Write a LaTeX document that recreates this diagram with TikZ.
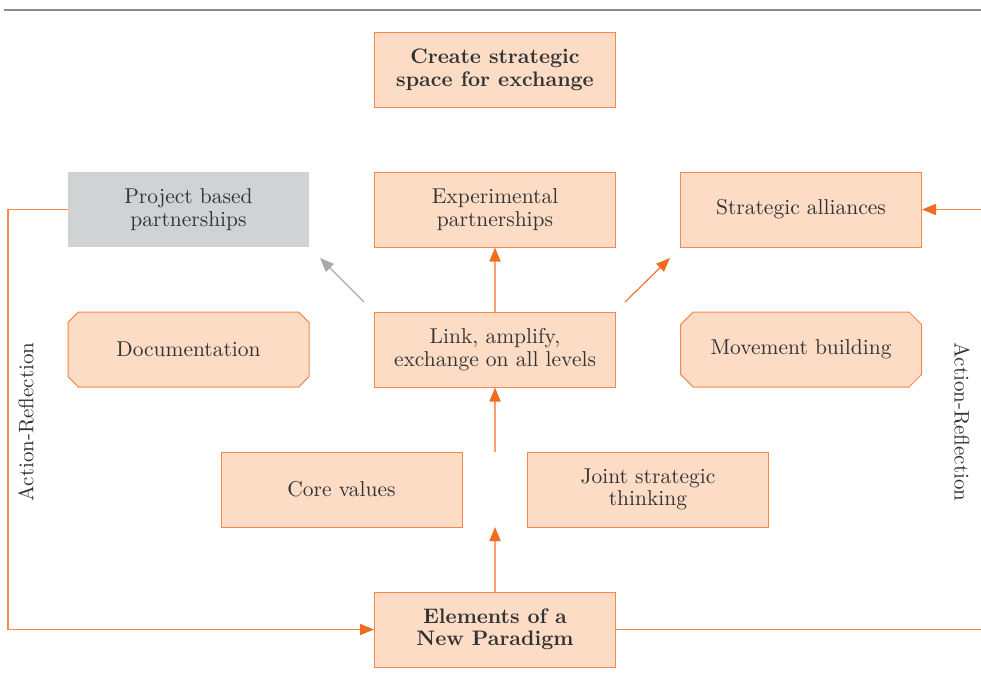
\documentclass[tikz,border=0pt]{standalone}
\usepackage{fontspec}
\setmainfont{lmroman10-regular.otf}[BoldFont=lmroman10-bold.otf]
\usetikzlibrary{arrows.meta,shapes.misc}
\definecolor{peach}{HTML}{FCDCC5}
\definecolor{edge}{HTML}{F4894A}
\definecolor{arr}{HTML}{F26B21}
\definecolor{lineor}{HTML}{F68A4C}
\definecolor{greybox}{HTML}{D1D2D4}
\definecolor{greyarr}{HTML}{A7A9AC}
\definecolor{txt}{HTML}{333333}
\begin{document}
\begin{tikzpicture}[x=1pt,y=-1pt,
  every node/.style={font=\fontsize{21.5}{22.5}\selectfont, text=txt, align=center},
  box/.style={rectangle, draw=edge, line width=1pt, fill=peach, minimum width=241pt, minimum height=75pt, inner sep=0pt},
  gbox/.style={rectangle, fill=greybox, minimum width=241pt, minimum height=75pt, inner sep=0pt},
  oct/.style={chamfered rectangle, chamfered rectangle xsep=13pt, draw=edge, line width=1pt, fill=peach, minimum width=241pt, minimum height=75pt, inner sep=0pt},
  bold/.style={font=\fontsize{21}{22.5}\selectfont\bfseries},
  tip/.style={-{Triangle[length=14pt,width=11pt]}},
  otip/.style={-{Triangle[length=14pt,width=11pt,color=arr]}},
  loopline/.style={line width=1.5pt, lineor},
]
\useasboundingbox (0,0) rectangle (981,682);
\draw[color=gray!90, line width=1.5pt] (4,10) -- (981,10);

\node[box,bold] (create) at (495,70) {Create strategic\\space for exchange};
\node[gbox] (proj) at (188.5,209.5) {Project based\\partnerships};
\node[box] (exp) at (495,209.5) {Experimental\\partnerships};
\node[box] (strat) at (801,209.5) {Strategic alliances};
\node[oct] (doc) at (188.5,349.5) {Documentation};
\node[box] (link) at (495,349.5) {Link, amplify,\\exchange on all levels};
\node[oct] (move) at (801,349.5) {Movement building};
\node[box] (core) at (341.5,489.5) {Core values};
\node[box] (joint) at (648,489.5) {Joint strategic\\thinking};
\node[box,bold] (elem) at (495,629.5) {Elements of a\\New Paradigm};

\coordinate (gfrom) at (364,302);
\coordinate (gto) at (320,258);
\coordinate (ofrom) at (625,302);
\coordinate (oto) at (670,258);
\coordinate (midlow) at (495,452);
\coordinate (midbot) at (495,527);
\coordinate (lcorner) at (8,209.5);
\coordinate (rbot) at (981,629.5);
\coordinate (rtop) at (981,209.5);

\draw[line width=1.8pt, lineor!80!white, otip] (link.north) -- (exp.south);
\draw[line width=1.3pt, greyarr, tip] (gfrom) -- (gto);
\draw[line width=1.1pt, arr, otip] (ofrom) -- (oto);
\draw[line width=1.8pt, lineor!80!white, otip] (midlow) -- (link.south);
\draw[line width=1.8pt, lineor!80!white, otip] (elem.north) -- (midbot);
\draw[loopline, otip] (proj.west) -- (lcorner) |- (elem.west);
\draw[loopline] (elem.east) -- (rbot);
\draw[loopline, otip] (rtop) -- (strat.east);

\node[rotate=90, font=\fontsize{21}{22}\selectfont] (arleft) at (26,422) {Action-Reflection};
\node[rotate=-90, font=\fontsize{21}{22}\selectfont] (arright) at (962,422) {Action-Reflection};
\end{tikzpicture}
\end{document}
